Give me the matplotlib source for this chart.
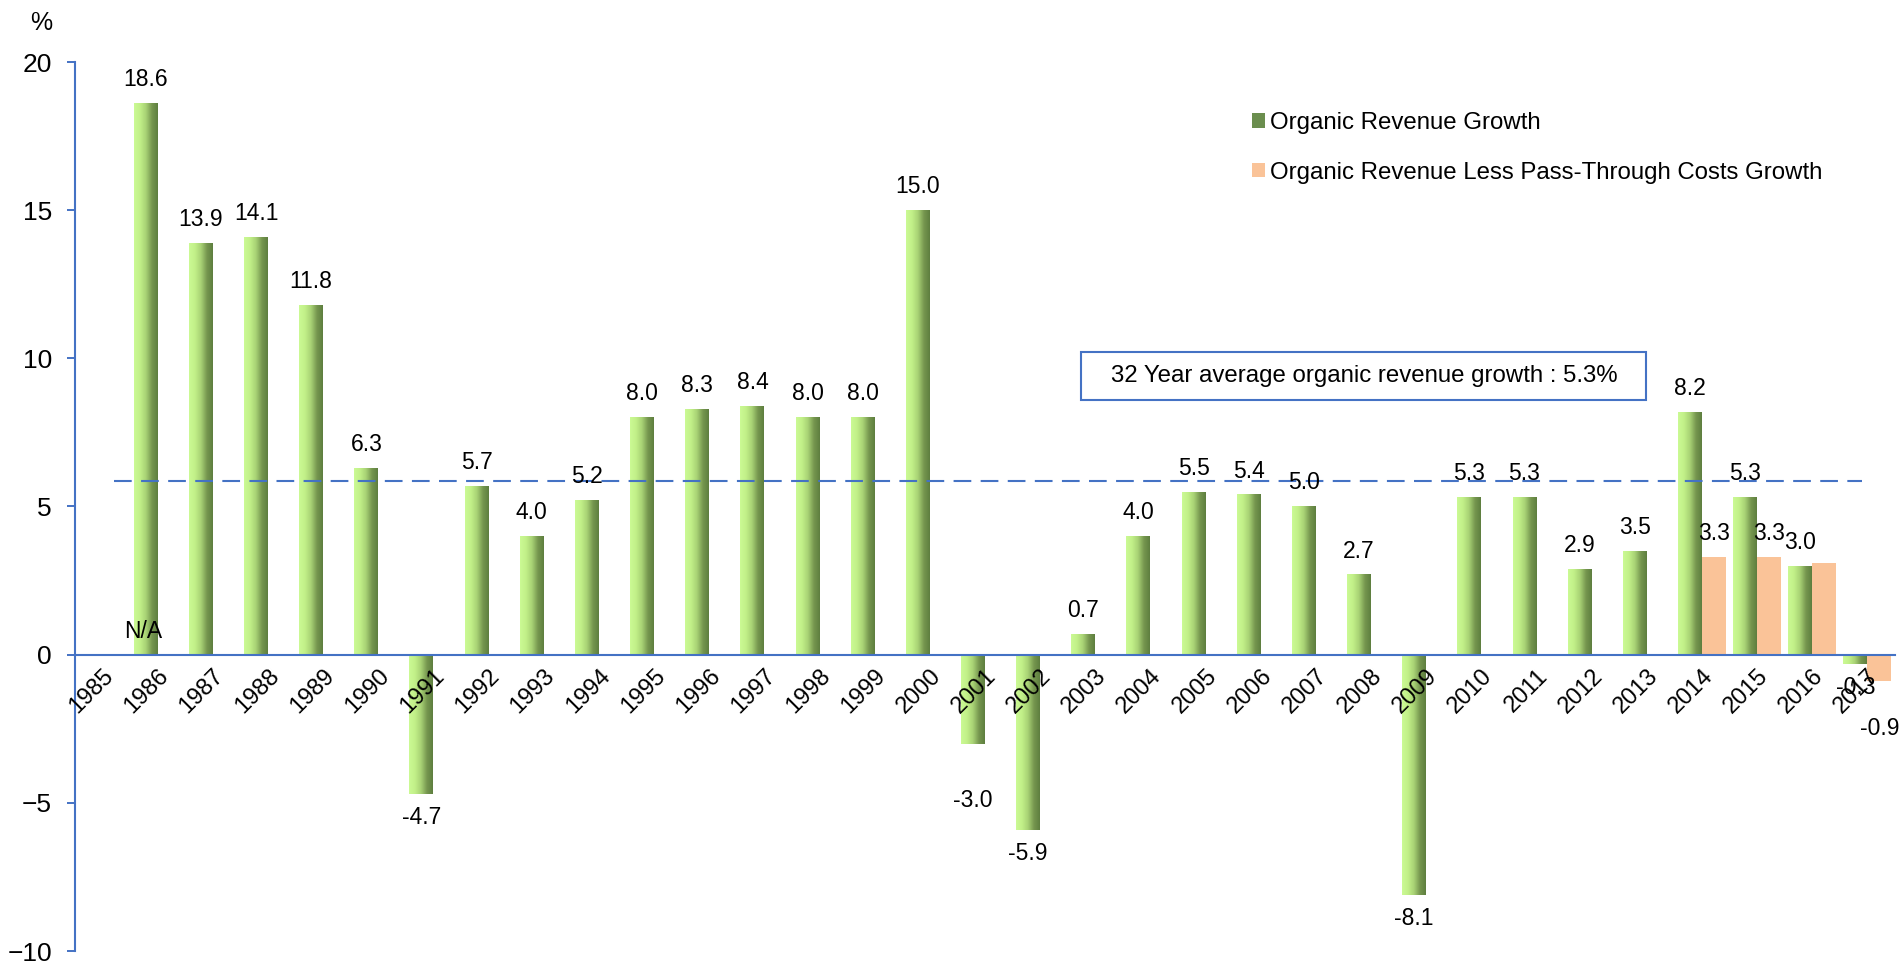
import numpy as np
import matplotlib
matplotlib.use("Agg")
import matplotlib.pyplot as plt
from matplotlib.colors import LinearSegmentedColormap
from matplotlib.patches import Patch, Rectangle

plt.rcParams['font.family'] = ['Liberation Sans', 'DejaVu Sans']

# data
years = list(range(1985, 2018))
organic = [np.nan, 18.6, 13.9, 14.1, 11.8, 6.3, -4.7, 5.7, 4.0, 5.2, 8.0, 8.3, 8.4,
           8.0, 8.0, 15.0, -3.0, -5.9, 0.7, 4.0, 5.5, 5.4, 5.0, 2.7, -8.1, 5.3,
           5.3, 2.9, 3.5, 8.2, 5.3, 3.0, -0.3]
pt_years = [2014, 2015, 2016, 2017]
pass_through = [3.3, 3.3, 3.1, -0.9]
pt_labels = ["3.3", "3.3", "", "-0.9"]
avg_level = 5.85
avg_text = "32 Year average organic revenue growth : 5.3%"
series_names = ["Organic Revenue Growth", "Organic Revenue Less Pass-Through Costs Growth"]

blue = "#4472C4"
peach = "#FAC398"
green_cmap = LinearSegmentedColormap.from_list(
    "bar", ["#CBFA94", "#C2F088", "#A8D275", "#76974F", "#5E7E3F"])

fig = plt.figure(figsize=(19.01, 9.63), dpi=100)
ax = fig.add_axes([75/1901, 12/963, 1820/1901, 889/963])
ax.set_axisbelow(False)   # year labels sit on top of the negative bars

# spine has to be moved before the tick labels are styled (it resets them)
for s in ["top", "right"]:
    ax.spines[s].set_visible(False)
ax.spines["bottom"].set_position(("data", 0))
for s in ["left", "bottom"]:
    ax.spines[s].set_color(blue)
    ax.spines[s].set_linewidth(1.5)

w = 0.435
x = np.array(years, dtype=float)
grad = np.linspace(0, 1, 256).reshape(1, -1)

bars = ax.bar(x - w/2, organic, w, color="none", edgecolor="none")
for b in bars:
    h = b.get_height()
    if np.isnan(h):
        continue
    x0 = b.get_x()
    ax.imshow(grad, cmap=green_cmap, aspect="auto", zorder=2,
              extent=[x0, x0 + b.get_width(), 0, h])

ax.bar(np.array(pt_years) + w/2, pass_through, w, color=peach, zorder=2)

# data labels
nudge = {2001: -24}   # a few labels were moved by hand in the original
for yr, v in zip(years, organic):
    if np.isnan(v):
        continue
    off = 17 if v >= 0 else -17 + nudge.get(yr, 0)
    ax.annotate(f"{v:.1f}", (yr - w/2, v), xytext=(0, off), textcoords="offset points",
                ha="center", va="center", fontsize=16.5, zorder=5)
for yr, v, lab in zip(pt_years, pass_through, pt_labels):
    if not lab:
        continue
    off = 17 if v >= 0 else -34
    ax.annotate(lab, (yr + w/2, v), xytext=(0, off), textcoords="offset points",
                ha="center", va="center", fontsize=16.5, zorder=5)
ax.annotate("N/A", (1986 - w/2 - 0.05, 0), xytext=(0, 17), textcoords="offset points",
            ha="center", va="center", fontsize=16.5, zorder=5)

# average line and its box
ax.plot([1985.2, 2016.9], [avg_level, avg_level], color=blue, lw=1.5,
        dashes=(8.5, 4.5), zorder=3)
ax.add_patch(Rectangle((2002.74, 8.60), 10.25, 1.62, facecolor="white",
                       edgecolor=blue, lw=1.5, zorder=4))
ax.text(2007.87, 9.41, avg_text, ha="center", va="center", fontsize=17.3, zorder=5)

ax.set_xlim(1984.5, 2017.5)
ax.set_ylim(-10, 20)
ax.set_yticks([-10, -5, 0, 5, 10, 15, 20])
ax.set_xticks(years)
ax.set_xticklabels([str(y) for y in years], rotation=45, ha="right", va="top",
                   rotation_mode="anchor", fontsize=17)
ax.tick_params(axis="x", length=0, pad=7.5)
ax.tick_params(axis="y", length=5.8, width=1.4, color=blue, pad=10.8, labelsize=19)

fig.text(41/1901, 1 - 23/963, "%", ha="center", va="center", fontsize=18)

handles = [Patch(facecolor="#6B8E4E"), Patch(facecolor=peach)]
fig.legend(handles, series_names, loc="upper left", bbox_to_anchor=(1252/1901, 1 - 112/963),
           frameon=False, fontsize=17.3, handlelength=0.53, handleheight=0.53,
           handletextpad=0.2, labelspacing=1.15, borderpad=0, borderaxespad=0)

fig.savefig("out.png", dpi=100)
